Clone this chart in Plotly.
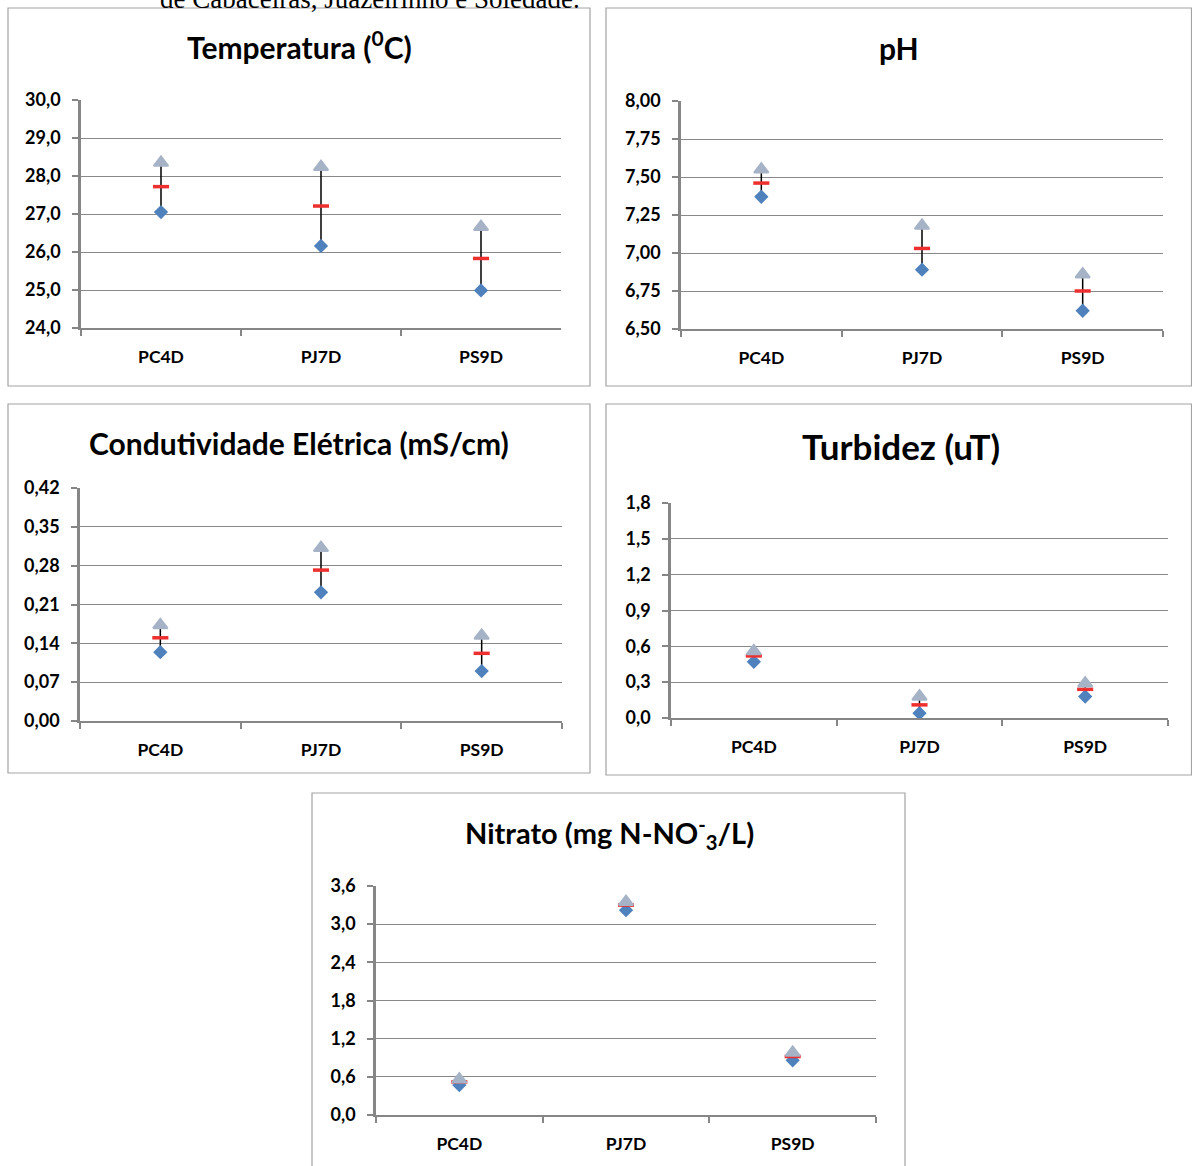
import plotly.graph_objects as go

# ---------------- data ----------------
categories = ["PC4D", "PJ7D", "PS9D"]

temp_min = [27.05, 26.16, 24.99]
temp_mean = [27.72, 27.21, 25.83]
temp_max = [28.35, 28.24, 26.66]
temp_ticks = [24, 25, 26, 27, 28, 29, 30]

ph_min = [7.37, 6.89, 6.62]
ph_mean = [7.46, 7.03, 6.75]
ph_max = [7.55, 7.18, 6.86]
ph_ticks = [6.50, 6.75, 7.00, 7.25, 7.50, 7.75, 8.00]

ce_min = [0.124, 0.232, 0.090]
ce_mean = [0.150, 0.272, 0.122]
ce_max = [0.173, 0.312, 0.154]
ce_ticks = [0.00, 0.07, 0.14, 0.21, 0.28, 0.35, 0.42]

turb_min = [0.47, 0.04, 0.18]
turb_mean = [0.52, 0.11, 0.24]
turb_max = [0.56, 0.18, 0.29]
turb_ticks = [0.0, 0.3, 0.6, 0.9, 1.2, 1.5, 1.8]

nit_min = [0.47, 3.22, 0.86]
nit_mean = [0.52, 3.30, 0.92]
nit_max = [0.56, 3.35, 0.98]
nit_ticks = [0.0, 0.6, 1.2, 1.8, 2.4, 3.0, 3.6]

titles = [
    "Temperatura (<sup>0</sup>C)",
    "pH",
    "Condutividade Elétrica (mS/cm)",
    "Turbidez (uT)",
    "Nitrato (mg N-NO<sup>-</sup><sub>3</sub>/L)",
]
caption = "de Cabaceiras, Juazeirinho e Soledade."

# ---------------- layout helpers ----------------
W, H = 1192, 1166


def px_x(v):
    return v / W


def px_y(v):
    return 1 - v / H


panels = [
    dict(mn=temp_min, me=temp_mean, mx=temp_max, ticks=temp_ticks, fmt=".1f",
         plot=(81, 561, 100, 328), frame=(8, 590, 8, 386), tpos=(299, 45), tsize=30),
    dict(mn=ph_min, me=ph_mean, mx=ph_max, ticks=ph_ticks, fmt=".2f",
         plot=(681, 1163, 101, 329), frame=(606, 1191.5, 8, 386), tpos=(899, 48), tsize=30),
    dict(mn=ce_min, me=ce_mean, mx=ce_max, ticks=ce_ticks, fmt=".2f",
         plot=(80, 562, 488, 721), frame=(8, 590, 404, 773), tpos=(299, 443), tsize=30),
    dict(mn=turb_min, me=turb_mean, mx=turb_max, ticks=turb_ticks, fmt=".1f",
         plot=(671, 1168, 503, 718), frame=(606, 1191.5, 404, 775), tpos=(901, 446), tsize=35),
    dict(mn=nit_min, me=nit_mean, mx=nit_max, ticks=nit_ticks, fmt=".1f",
         plot=(376, 876, 886, 1115), frame=(312, 905, 793, 1170), tpos=(609, 833), tsize=29),
]

AXIS_GRAY = "#868686"
GRID_GRAY = "#888888"
DIAMOND = "#4f81bd"
TRIANGLE = "#a6b3c7"
RED = "#ee2f2f"
FONT = "Lato"

fig = go.Figure()
shapes = []
annotations = []
layout_axes = {}

for i, p in enumerate(panels, start=1):
    xa = "x" if i == 1 else f"x{i}"
    ya = "y" if i == 1 else f"y{i}"
    xkey = "xaxis" if i == 1 else f"xaxis{i}"
    ykey = "yaxis" if i == 1 else f"yaxis{i}"

    # high-low lines
    lx, ly = [], []
    for c, a, b in zip(categories, p["mn"], p["mx"]):
        lx += [c, c, None]
        ly += [a, b, None]
    fig.add_trace(go.Scatter(x=lx, y=ly, mode="lines", xaxis=xa, yaxis=ya,
                             line=dict(color="black", width=1.5),
                             hoverinfo="skip", showlegend=False))
    # minimum (diamond)
    fig.add_trace(go.Scatter(x=categories, y=p["mn"], mode="markers", xaxis=xa, yaxis=ya,
                             marker=dict(symbol="diamond", size=11, color=DIAMOND,
                                         line=dict(width=0)),
                             showlegend=False))
    # mean (red dash)
    fig.add_trace(go.Scatter(x=categories, y=p["me"], mode="markers", xaxis=xa, yaxis=ya,
                             marker=dict(symbol="line-ew", size=11.5, color=RED,
                                         line=dict(color=RED, width=3.5)),
                             showlegend=False))
    # maximum (triangle)
    fig.add_trace(go.Scatter(x=categories, y=p["mx"], mode="markers", xaxis=xa, yaxis=ya,
                             marker=dict(symbol="triangle-up", size=12.5, color=TRIANGLE,
                                         line=dict(color=TRIANGLE, width=2)),
                             showlegend=False))

    x0, x1, yt, yb = p["plot"]
    layout_axes[xkey] = dict(
        domain=[px_x(x0), px_x(x1)], anchor=ya,
        type="category", categoryorder="array", categoryarray=categories,
        range=[-0.5, 2.5], showgrid=False, zeroline=False,
        showline=True, linecolor=AXIS_GRAY, linewidth=2,
        ticks="outside", tickson="boundaries", ticklen=6, tickwidth=1.5,
        tickcolor=AXIS_GRAY, ticklabelstandoff=12,
        tickfont=dict(family=FONT, size=17.5, color="black", weight="bold"),
        fixedrange=True, automargin=False,
    )
    tk = p["ticks"]
    layout_axes[ykey] = dict(
        domain=[px_y(yb), px_y(yt)], anchor=xa,
        range=[tk[0], tk[-1]], tickmode="array", tickvals=tk, tickformat=p["fmt"],
        showgrid=True, gridcolor=GRID_GRAY, gridwidth=1.3, zeroline=False,
        showline=True, linecolor=AXIS_GRAY, linewidth=2.5,
        ticks="outside", ticklen=6, tickwidth=1.5, tickcolor=AXIS_GRAY,
        ticklabelstandoff=8,
        tickfont=dict(family=FONT, size=18, color="black", weight="bold"),
        fixedrange=True, automargin=False,
    )

    fx0, fx1, fy0, fy1 = p["frame"]
    shapes.append(dict(type="rect", xref="paper", yref="paper",
                       x0=px_x(fx0), x1=px_x(fx1), y0=px_y(fy1), y1=px_y(fy0),
                       line=dict(color="#a3a3a3", width=1.2), layer="below"))
    tx, ty = p["tpos"]
    annotations.append(dict(text=titles[i - 1], xref="paper", yref="paper",
                            x=px_x(tx), y=px_y(ty), xanchor="center", yanchor="middle",
                            showarrow=False,
                            font=dict(family=FONT, size=p["tsize"], color="black",
                                      weight="bold")))

annotations.append(dict(text=caption, xref="paper", yref="paper",
                        x=px_x(158), y=px_y(-1), xanchor="left", yanchor="middle",
                        showarrow=False,
                        font=dict(family="Liberation Serif", size=27, color="black")))

fig.update_layout(
    width=W, height=H,
    margin=dict(l=0, r=0, t=0, b=0, pad=0, autoexpand=False),
    paper_bgcolor="white", plot_bgcolor="white",
    separators=",.", showlegend=False,
    shapes=shapes, annotations=annotations,
    **layout_axes,
)

fig.write_html("out.html")
